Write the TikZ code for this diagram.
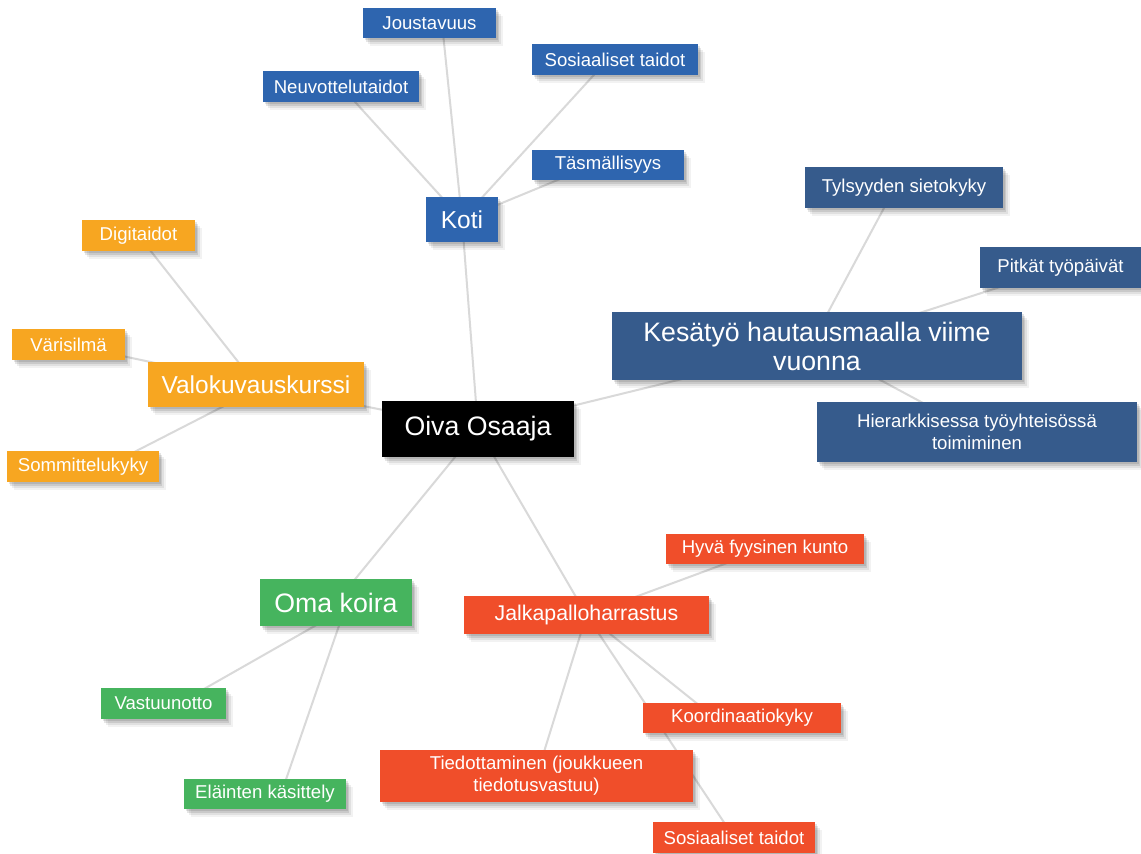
\documentclass[tikz,border=0pt]{standalone}
\usepackage{fontspec}
\setmainfont{Liberation Sans}
\usetikzlibrary{shadows}
\pgfdeclarelayer{paper}
\pgfdeclarelayer{links}
\pgfsetlayers{paper,links,main}
\definecolor{kotiblue}{HTML}{2E65AF}
\definecolor{workblue}{HTML}{365B8C}
\definecolor{photoorange}{HTML}{F7A621}
\definecolor{doggreen}{HTML}{46B45E}
\definecolor{ballred}{HTML}{F04E2A}
\definecolor{linegray}{HTML}{D9D9D9}
\tikzset{
  conn/.style={draw=linegray, line width=2pt},
  box/.style={rectangle, inner sep=0pt, text=white, align=center,
    drop shadow={shadow xshift=7pt, shadow yshift=-8pt, opacity=0.05, fill=black},
    drop shadow={shadow xshift=5pt, shadow yshift=-6pt, opacity=0.07, fill=black},
    drop shadow={shadow xshift=3pt, shadow yshift=-4pt, opacity=0.10, fill=black},
    drop shadow={shadow xshift=1.5pt, shadow yshift=-2pt, opacity=0.10, fill=black}},
  fsmall/.style={font=\fontsize{18.6}{22}\selectfont},
  fmid/.style={font=\fontsize{21.3}{25}\selectfont},
  flarge/.style={font=\fontsize{24.5}{28}\selectfont},
  fhuge/.style={font=\fontsize{26.7}{29}\selectfont},
  dims/.style 2 args={minimum width=#1pt, minimum height=#2pt},
}
\begin{document}
\begin{tikzpicture}[x=1pt,y=-1pt]
\begin{pgfonlayer}{paper}
\fill[white] (0,0) rectangle (1141,854);
\end{pgfonlayer}
\useasboundingbox (0,0) rectangle (1141,854);
% centre
\node[box, fhuge, fill=black, dims={192}{56}] (oiva) at (478,429) {Oiva Osaaja};
% Koti branch
\node[box, flarge, fill=kotiblue, dims={72}{45}] (koti) at (462,219.5) {Koti};
\node[box, fsmall, fill=kotiblue, dims={133}{30}] (jous) at (429.5,23) {Joustavuus};
\node[box, fsmall, fill=kotiblue, dims={156}{31}] (neuv) at (341,86.5) {Neuvottelutaidot};
\node[box, fsmall, fill=kotiblue, dims={166}{31}] (sosk) at (615,59.5) {Sosiaaliset taidot};
\node[box, fsmall, fill=kotiblue, dims={152}{30}] (tasm) at (608,165) {Täsmällisyys};
% work branch
\node[box, fhuge, fill=workblue, dims={410}{68}] (kesa) at (817,346) {Kesätyö hautausmaalla viime\\vuonna};
\node[box, fsmall, fill=workblue, dims={198}{41}] (tyls) at (904,187.5) {Tylsyyden sietokyky};
\node[box, fsmall, fill=workblue, dims={161}{41}] (pitk) at (1060.5,267.5) {Pitkät työpäivät};
\node[box, fsmall, fill=workblue, dims={320}{60}] (hier) at (977,432) {Hierarkkisessa työyhteisössä\\toimiminen};
% photo branch
\node[box, flarge, fill=photoorange, dims={216}{45}] (valo) at (256,384.5) {Valokuvauskurssi};
\node[box, fsmall, fill=photoorange, dims={113}{31}] (digi) at (138.5,235.5) {Digitaidot};
\node[box, fsmall, fill=photoorange, dims={113}{31}] (vari) at (68.5,344.5) {Värisilmä};
\node[box, fsmall, fill=photoorange, dims={152}{31}] (somm) at (83,466.5) {Sommittelukyky};
% dog branch
\node[box, fhuge, fill=doggreen, dims={152}{47}] (koira) at (336,602.5) {Oma koira};
\node[box, fsmall, fill=doggreen, dims={125}{31}] (vast) at (163.5,703.5) {Vastuunotto};
\node[box, fsmall, fill=doggreen, dims={162}{30}] (elai) at (265,794) {Eläinten käsittely};
% football branch
\node[box, fmid, fill=ballred, dims={245}{38}] (jalka) at (586.5,615) {Jalkapalloharrastus};
\node[box, fsmall, fill=ballred, dims={198}{30}] (hyva) at (765,549) {Hyvä fyysinen kunto};
\node[box, fsmall, fill=ballred, dims={198}{30}] (koord) at (742,718) {Koordinaatiokyky};
\node[box, fsmall, fill=ballred, dims={313}{52}] (tied) at (536.5,776) {Tiedottaminen (joukkueen\\tiedotusvastuu)};
\node[box, fsmall, fill=ballred, dims={162}{31}] (sosr) at (734,837.5) {Sosiaaliset taidot};
% connectors
\begin{pgfonlayer}{links}
\draw[conn] (oiva.center) -- (koti.center);
\draw[conn] (oiva.center) -- (kesa.center);
\draw[conn] (oiva.center) -- (valo.center);
\draw[conn] (oiva.center) -- (koira.center);
\draw[conn] (oiva.center) -- (jalka.center);
\draw[conn] (koti.center) -- ([xshift=12.5pt]jous.center);
\draw[conn] (koti.center) -- (neuv.center);
\draw[conn] (koti.center) -- ([xshift=-7pt]sosk.center);
\draw[conn] (koti.center) -- ([xshift=-14pt]tasm.center);
\draw[conn] ([xshift=-7pt]kesa.center) -- ([xshift=-9pt]tyls.center);
\draw[conn] (kesa.center) -- (pitk.center);
\draw[conn] (kesa.center) -- (hier.center);
\draw[conn] (valo.center) -- (digi.center);
\draw[conn] (valo.center) -- (vari.center);
\draw[conn] ([xshift=10pt]valo.center) -- ([xshift=23pt]somm.center);
\draw[conn] ([xshift=20pt]koira.center) -- ([xshift=15pt]vast.center);
\draw[conn] ([xshift=11pt]koira.center) -- ([xshift=16pt]elai.center);
\draw[conn] (jalka.center) -- (hyva.center);
\draw[conn] (jalka.center) -- (tied.center);
\draw[conn] (jalka.center) -- ([xshift=-27pt]koord.center);
\draw[conn] (jalka.center) -- (sosr.center);
\end{pgfonlayer}
\end{tikzpicture}
\end{document}
